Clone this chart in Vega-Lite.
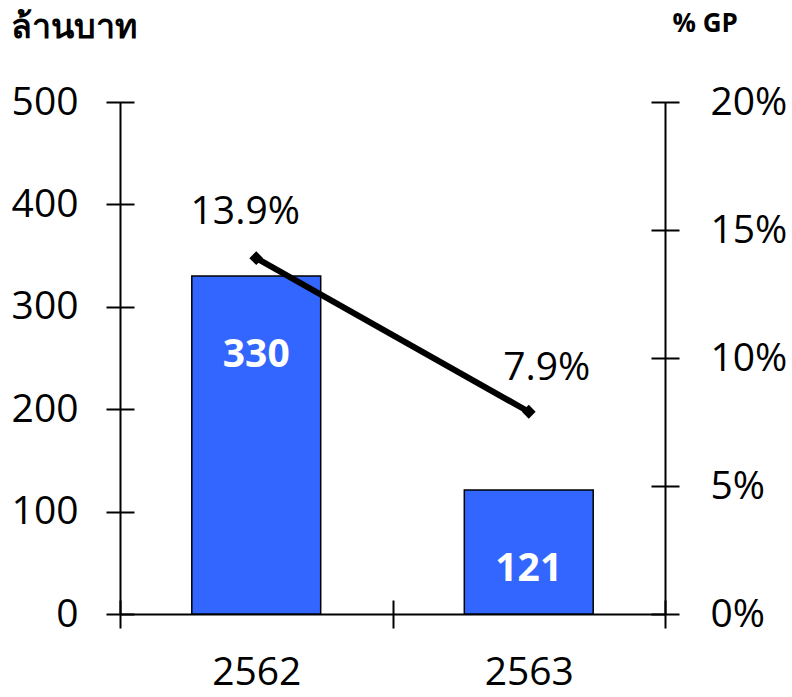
{
  "$schema": "https://vega.github.io/schema/vega-lite/v6.json",
  "width": 545,
  "height": 512,
  "autosize": {"type": "none"},
  "padding": {"left": 120, "top": 102, "right": 127, "bottom": 83},
  "background": "white",
  "config": {
    "font": "Open Sans",
    "view": {"stroke": null},
    "axis": {
      "domainColor": "black",
      "domainWidth": 2,
      "tickColor": "black",
      "tickWidth": 2,
      "tickSize": 14,
      "labelColor": "black",
      "labelFont": "Open Sans",
      "labelFontSize": 39,
      "grid": false
    }
  },
  "data": {
    "values": [
      {"year": "2562", "sales": 330, "gp": 0.139},
      {"year": "2563", "sales": 121, "gp": 0.079}
    ]
  },
  "encoding": {
    "x": {
      "field": "year",
      "type": "nominal",
      "sort": null,
      "scale": {"paddingInner": 0, "paddingOuter": 0},
      "axis": {
        "title": null,
        "labelAngle": 0,
        "labelPadding": 25,
        "tickBand": "extent",
        "encoding": {"ticks": {"y": {"value": -14}}}
      }
    }
  },
  "layer": [
    {
      "encoding": {
        "y": {
          "field": "sales",
          "type": "quantitative",
          "title": "ล้านบาท",
          "scale": {"domain": [0, 500], "nice": false, "zero": true},
          "axis": {
            "orient": "left",
            "values": [0, 100, 200, 300, 400, 500],
            "labelPadding": 28,
            "title": "ล้านบาท",
            "titleAngle": 0,
            "titleAlign": "left",
            "titleBaseline": "top",
            "titleX": -110,
            "titleY": -92,
            "titleFontSize": 34,
            "titleFontWeight": "bold",
            "titleColor": "black",
            "titleFont": "Noto Sans",
            "encoding": {"ticks": {"x": {"value": 14}}}
          }
        }
      },
      "layer": [
        {
          "mark": {"type": "bar", "width": {"band": 0.473}, "color": "#3366ff", "stroke": "black", "strokeWidth": 1.5}
        },
        {
          "mark": {"type": "text", "color": "white", "fontWeight": "bold", "fontSize": 39, "baseline": "middle", "dy": 79},
          "encoding": {"text": {"field": "sales", "type": "quantitative"}}
        }
      ]
    },
    {
      "encoding": {
        "y": {
          "field": "gp",
          "type": "quantitative",
          "title": "% GP",
          "scale": {"domain": [0, 0.2], "nice": false, "zero": true},
          "axis": {
            "orient": "right",
            "values": [0, 0.05, 0.1, 0.15, 0.2],
            "format": ".0%",
            "labelPadding": 31,
            "title": "% GP",
            "titleAngle": 0,
            "titleAlign": "left",
            "titleBaseline": "top",
            "titleX": 7,
            "titleY": -92,
            "titleFontSize": 26,
            "titleFontWeight": "bold",
            "titleColor": "black",
            "encoding": {"ticks": {"x": {"value": -14}}}
          }
        }
      },
      "layer": [
        {
          "mark": {"type": "line", "color": "black", "strokeWidth": 6},
          "encoding": {}
        },
        {
          "mark": {"type": "point", "shape": "diamond", "filled": true, "color": "black", "size": 190, "opacity": 1},
          "encoding": {}
        },
        {
          "transform": [{"filter": "datum.year == '2562'"}],
          "mark": {"type": "text", "color": "black", "fontSize": 39, "baseline": "middle", "dx": -11, "dy": -46},
          "encoding": {"text": {"field": "gp", "type": "quantitative", "format": ".1%"}}
        },
        {
          "transform": [{"filter": "datum.year == '2563'"}],
          "mark": {"type": "text", "color": "black", "fontSize": 39, "baseline": "middle", "dx": 18, "dy": -44},
          "encoding": {"text": {"field": "gp", "type": "quantitative", "format": ".1%"}}
        }
      ]
    }
  ],
  "resolve": {"scale": {"y": "independent"}, "axis": {"y": "independent"}}
}
